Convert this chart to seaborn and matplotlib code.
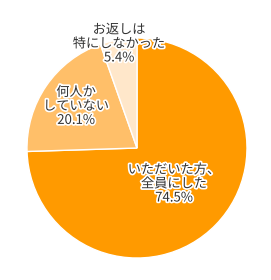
import numpy as np
import seaborn as sns
import matplotlib.pyplot as plt
import matplotlib.patheffects as pe

labels = ["いただいた方、\n全員にした", "何人か\nしていない", "お返しは\n特にしなかった"]
values = [74.5, 20.1, 5.4]
colors = ["#FF9A00", "#FFBF69", "#FFE7CA"]
label_radius = [0.47, 0.67, 0.96]

sns.set_theme(style="white")
plt.rcParams["font.family"] = ["Noto Sans CJK JP", "DejaVu Sans"]

fig = plt.figure(figsize=(2.71, 2.80), dpi=100)
ax = fig.add_axes([0.5055 - 0.4059, 0.4714 - 0.3929, 0.8118, 0.7857])

wedges, _ = ax.pie(values, colors=colors, startangle=90, counterclock=False,
                   radius=1, wedgeprops={"edgecolor": "white", "linewidth": 1})

for w, lab, v, r in zip(wedges, labels, values, label_radius):
    mid = np.deg2rad((w.theta1 + w.theta2) / 2)
    ax.text(r * np.cos(mid), r * np.sin(mid), f"{lab}\n{v}%",
            ha="center", va="center", fontsize=9.5, color="#333333",
            linespacing=1.1,
            path_effects=[pe.withStroke(linewidth=2.5, foreground="white")])

ax.set_xlim(-1, 1)
ax.set_ylim(-1, 1)
ax.set_aspect("auto")
ax.axis("off")

fig.savefig("out.png", dpi=100)
